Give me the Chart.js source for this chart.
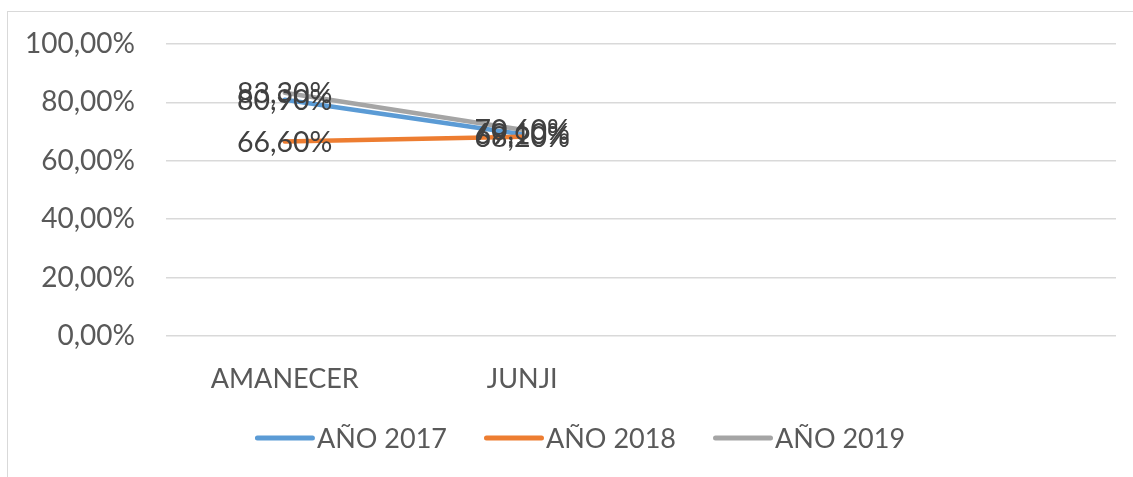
<!DOCTYPE html>
<html>
<head>
<meta charset="utf-8">
<script src="https://cdn.jsdelivr.net/npm/chart.js@4"></script>
<style>
  html, body { margin: 0; padding: 0; background: #ffffff; }
  #wrap { position: relative; width: 1133px; height: 477px; overflow: hidden; }
  #frame { position: absolute; left: 7px; top: 11px; width: 1200px; height: 600px; border: 1.5px solid #d9d9d9; box-sizing: border-box; }
  #c { position: absolute; left: 0; top: 0; }
</style>
</head>
<body>
<div id="wrap">
  <div id="frame"></div>
  <canvas id="c" width="1133" height="477"></canvas>
</div>
<script>
const categories = ['AMANECER', 'JUNJI', '', ''];
const seriesNames = ['AÑO 2017', 'AÑO 2018', 'AÑO 2019'];
const values2017 = [80.9, 69.1, null, null];
const values2018 = [66.6, 68.2, null, null];
const values2019 = [83.3, 70.6, null, null];
const yTicks = [0, 20, 40, 60, 80, 100];
const colors = ['#5b9bd5', '#ed7d31', '#a5a5a5'];

const FONT = 'Lato';
const fmt = v => v.toFixed(2).replace('.', ',') + '%';

const dataLabels = {
  id: 'dataLabels',
  afterDatasetsDraw(chart) {
    const ctx = chart.ctx;
    ctx.save();
    ctx.font = '28.5px ' + FONT;
    ctx.fillStyle = '#404040';
    ctx.textAlign = 'center';
    ctx.textBaseline = 'middle';
    chart.data.datasets.forEach((ds, di) => {
      const meta = chart.getDatasetMeta(di);
      meta.data.forEach((pt, i) => {
        const v = ds.data[i];
        if (v === null || v === undefined) return;
        ctx.fillText(fmt(v), pt.x, pt.y + 1);
      });
    });
    ctx.restore();
  }
};

// Legend drawn with a small plugin so the line sample sits right against the text
const customLegend = {
  id: 'customLegend',
  afterDraw(chart) {
    const ctx = chart.ctx;
    ctx.save();
    ctx.font = '27px ' + FONT;
    const lineW = 60, gapText = 2, gapItem = 37;
    const items = chart.data.datasets.map((ds, i) => ({ text: ds.label, color: colors[i], w: ctx.measureText(ds.label).width }));
    const total = items.reduce((s, it) => s + lineW + gapText + it.w, 0) + gapItem * (items.length - 1);
    let x = 580 - total / 2;
    const y = 438;
    items.forEach(it => {
      ctx.strokeStyle = it.color;
      ctx.lineWidth = 5;
      ctx.lineCap = 'round';
      ctx.beginPath();
      ctx.moveTo(x + 2.5, y);
      ctx.lineTo(x + lineW - 2.5, y);
      ctx.stroke();
      x += lineW + gapText;
      ctx.fillStyle = '#595959';
      ctx.textAlign = 'left';
      ctx.textBaseline = 'middle';
      ctx.fillText(it.text, x, y + 1);
      x += it.w + gapItem;
    });
    ctx.restore();
  }
};

const allSeries = [values2017, values2018, values2019];
new Chart(document.getElementById('c'), {
  type: 'line',
  data: {
    labels: categories,
    datasets: allSeries.map((vals, i) => ({
      label: seriesNames[i],
      data: vals,
      borderColor: colors[i],
      backgroundColor: colors[i],
      borderWidth: 4.5,
      borderCapStyle: 'round',
      borderJoinStyle: 'round',
      pointRadius: 0,
      pointHoverRadius: 0,
      fill: false,
      tension: 0,
      order: 3 - i
    }))
  },
  options: {
    responsive: false,
    animation: false,
    events: [],
    layout: { padding: { left: 0, right: 17, top: 44, bottom: 81 } },
    scales: {
      x: {
        offset: true,
        grid: { display: false, drawTicks: false },
        border: { display: false },
        ticks: { color: '#595959', font: { family: FONT, size: 27 }, padding: 27, maxRotation: 0, autoSkip: false },
        afterFit(scale) { scale.height = 60; scale.paddingLeft = 0; scale.paddingRight = 0; }
      },
      y: {
        min: 0, max: 100,
        afterBuildTicks(scale) { scale.ticks = yTicks.map(v => ({ value: v })); },
        grid: { color: '#d9d9d9', lineWidth: 1.5, drawTicks: false },
        border: { display: false },
        ticks: { color: '#595959', font: { family: FONT, size: 28 }, padding: 31, callback: v => fmt(v) },
        afterFit(scale) { scale.width = 166; scale.paddingTop = 0; scale.paddingBottom = 0; }
      }
    },
    plugins: {
      tooltip: { enabled: false },
      legend: { display: false }
    }
  },
  plugins: [dataLabels, customLegend]
});
</script>
</body>
</html>
